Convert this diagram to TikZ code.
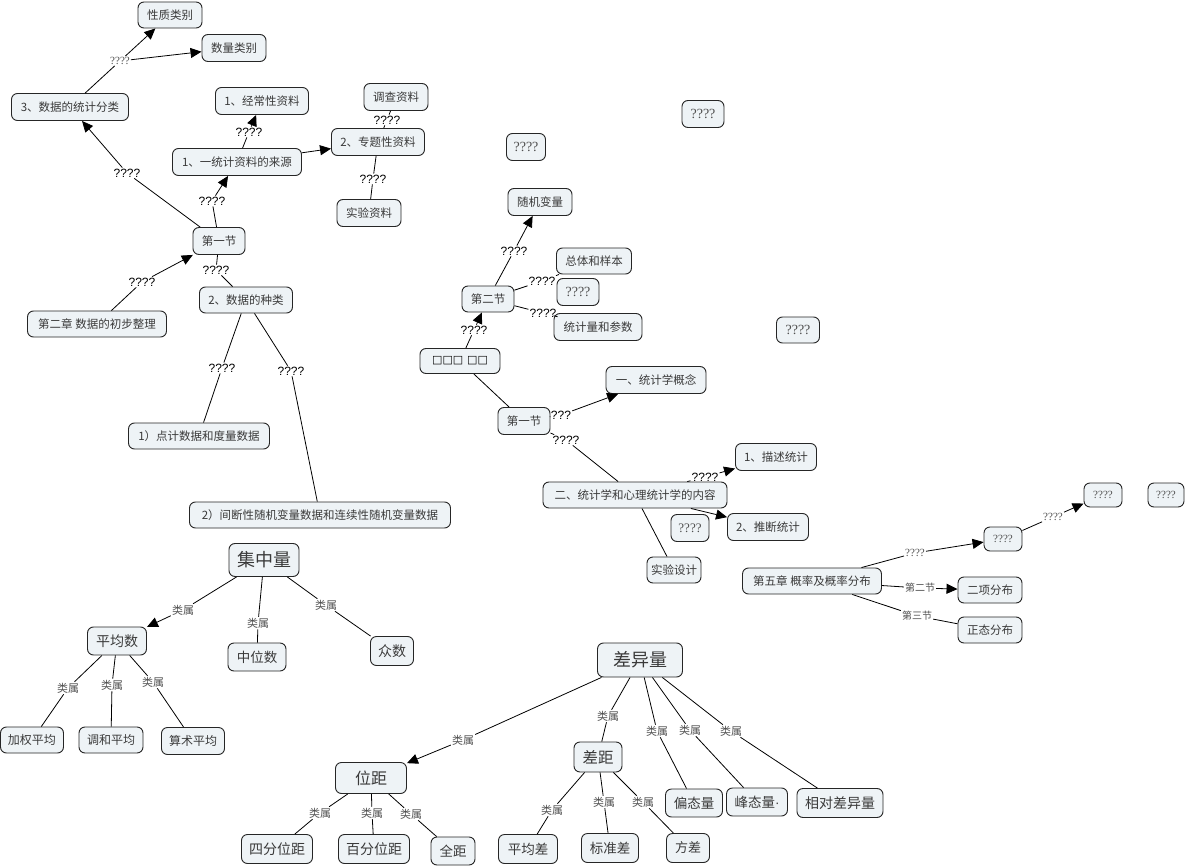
\documentclass[tikz,border=0pt]{standalone}
\usepackage{fontspec}
\setmainfont{Noto Sans CJK SC}
\newfontfamily\labfont{Liberation Sans}
\newfontfamily\qfont{Liberation Serif}
\newfontfamily\sqfont{DejaVu Sans}
\usetikzlibrary{arrows.meta}
\definecolor{boxfill}{HTML}{EEF3F6}
\definecolor{boxtext}{HTML}{3A3A3A}
\definecolor{labgray}{HTML}{505050}
\tikzset{
  box/.style={draw=black!85, line width=0.9pt, fill=boxfill, rounded corners=6pt,
    text=boxtext, inner sep=1pt, font=\fontsize{11.5}{12}\selectfont},
  sz/.style 2 args={minimum width=#1, minimum height=#2},
  fs/.style={font=\fontsize{#1}{#1}\selectfont},
  qbox/.style={box, font=\qfont\fontsize{#1}{#1}\selectfont, text=labgray},
  lab/.style={inner sep=1pt, font=\labfont\fontsize{12}{12}\selectfont, text=black},
  glab/.style={inner sep=1pt, font=\fontsize{#1}{#1}\selectfont, text=labgray},
  qlab/.style={inner sep=1pt, font=\qfont\fontsize{11}{11}\selectfont, text=labgray},
  con/.style={line width=0.8pt, draw=black},
  arr/.style={con, -{Triangle[length=11pt,width=10pt]}},
}
\begin{document}
\begin{tikzpicture}[x=1pt,y=-1pt]
\useasboundingbox[fill=white] (0,0) rectangle (1187,867);
% ---------- top-left group ----------
\node[box, sz={64}{26}] (xzlb) at (170,15) {性质类别};
\node[box, sz={64}{27}] (slbl) at (234,48) {数量类别};
\node[box, sz={117}{27}] (tjfl) at (70,107) {3、数据的统计分类};
\node[box, sz={93}{27}] (jcx) at (262,101) {1、经常性资料};
\node[box, sz={129}{27}] (ly) at (237,162) {1、一统计资料的来源};
\node[box, sz={93}{27}] (ztx) at (378,142) {2、专题性资料};
\node[box, sz={64}{27}] (dc) at (396,97) {调查资料};
\node[box, sz={64}{27}] (sy) at (369,213) {实验资料};
\node[box, sz={52}{27}] (dyj) at (219,241) {第一节};
\node[box, sz={93}{26}] (zl) at (246,300) {2、数据的种类};
\node[box, sz={139}{26}] (dez) at (97,324) {第二章 数据的初步整理};
\node[box, sz={141}{26}] (ds) at (199,436) {1）点计数据和度量数据};
\node[box, sz={261}{26}] (jd) at (320,515) {2）间断性随机变量数据和连续性随机变量数据};
% ---------- middle group ----------
\node[qbox=14, sz={42}{27}] (qa) at (703,114) {????};
\node[qbox=14, sz={39}{27}] (qb) at (526,147) {????};
\node[box, sz={64}{27}] (sj) at (540,202) {随机变量};
\node[box, sz={75}{26}] (zt) at (594,261) {总体和样本};
\node[qbox=14, sz={42}{27}] (qc) at (578,292) {????};
\node[box, sz={52}{26}] (dez2) at (488,299) {第二节};
\node[box, sz={88}{27}] (tjl) at (598,327) {统计量和参数};
\node[box, sz={80}{25}, font=\sqfont\bfseries\fontsize{11}{11}\selectfont, text=black] (sq) at (460,361) {□□□ □□};
\node[qbox=14, sz={43}{26}] (qd) at (798,330) {????};
\node[box, sz={100}{27}] (gn) at (656,380) {一、统计学概念};
\node[box, sz={52}{27}] (dyj2) at (524,421) {第一节};
\node[box, sz={184}{26}] (nr) at (635,495) {二、统计学和心理统计学的内容};
\node[box, sz={81}{27}] (ms) at (776,457) {1、描述统计};
\node[qbox=13, sz={38}{27}] (qe) at (690,528) {????};
\node[box, sz={81}{27}] (tdc) at (768,527) {2、推断统计};
\node[box, sz={54}{26}] (syj) at (674,570) {实验设计};
% ---------- right group ----------
\node[qbox=11, sz={38}{24}] (qf) at (1103,495) {????};
\node[qbox=11, sz={36}{24}] (qg) at (1166,495) {????};
\node[qbox=11, sz={38}{24}] (qh) at (1003,539) {????};
\node[box, sz={139}{26}] (dwz) at (812,581) {第五章 概率及概率分布};
\node[box, sz={64}{26}] (ex) at (990,590) {二项分布};
\node[box, sz={64}{26}] (zt2) at (990,630) {正态分布};
% ---------- bottom-left group ----------
\node[box, sz={70}{33}, fs=18] (jzl) at (264,560) {集中量};
\node[box, sz={59}{28}, fs=14] (pjs) at (117,641) {平均数};
\node[box, sz={58}{28}, fs=13.5] (zws) at (257,657) {中位数};
\node[box, sz={43}{29}, fs=14] (zs) at (392,651) {众数};
\node[box, sz={63}{26}, fs=12] (jq) at (32,740) {加权平均};
\node[box, sz={64}{26}, fs=12] (th) at (111,740) {调和平均};
\node[box, sz={63}{27}, fs=12] (ss) at (193,741) {算术平均};
% ---------- bottom-right group ----------
\node[box, sz={85}{34}, fs=18] (cyl) at (640,660) {差异量};
\node[box, sz={71}{31}, fs=16] (wj) at (371,778) {位距};
\node[box, sz={48}{30}, fs=15.5] (cj) at (598,757) {差距};
\node[box, sz={71}{29}, fs=14] (sf) at (277,849) {四分位距};
\node[box, sz={71}{29}, fs=14] (bf) at (374,849) {百分位距};
\node[box, sz={44}{28}, fs=13.5] (qj) at (453,851) {全距};
\node[box, sz={59}{29}, fs=13.5] (pjc) at (528,849) {平均差};
\node[box, sz={57}{29}, fs=13.5] (bzc) at (610,848) {标准差};
\node[box, sz={43}{29}, fs=13] (fc) at (688,848) {方差};
\node[box, sz={57}{28}, fs=13.5] (ptl) at (694,803) {偏态量};
\node[box, sz={61}{28}, fs=13.5] (ftl) at (757,802) {峰态量{\labfont ·}};
\node[box, sz={86}{29}, fs=14] (xd) at (840,803) {相对差异量};
% ---------- linking phrases ----------
\node[qlab] (l1) at (120,61) {????};
\node[lab] (l2) at (127,173) {????};
\node[lab] (l3) at (212,201) {????};
\node[lab] (l4) at (249,132) {????};
\node[lab] (l5) at (387,120) {????};
\node[lab] (l6) at (373,179) {????};
\node[lab] (l7) at (142,282) {????};
\node[lab] (l8) at (216,270) {????};
\node[lab] (l9) at (222,368) {????};
\node[lab] (l10) at (291,371) {????};
\node[lab] (m1) at (474,330) {????};
\node[lab] (m2) at (514,251) {????};
\node[lab] (m3) at (542,281) {????};
\node[lab] (m4) at (543,313) {????};
\node[lab] (m5) at (561,415) {???};
\node[lab] (m6) at (566,440) {????};
\node[lab] (m7) at (705,477) {????};
\node[qlab] (r1) at (915,553) {????};
\node[qlab] (r2) at (1053,517) {????};
\node[glab=10] (r3) at (920,588) {第二节};
\node[glab=10] (r4) at (917,616) {第三节};
\node[glab=11] (b1) at (183,610) {类属};
\node[glab=11] (b2) at (258,623) {类属};
\node[glab=11] (b3) at (326,605) {类属};
\node[glab=11] (b4) at (68,688) {类属};
\node[glab=11] (b5) at (112,685) {类属};
\node[glab=11] (b6) at (153,682) {类属};
\node[glab=11] (c1) at (463,740) {类属};
\node[glab=11] (c2) at (608,716) {类属};
\node[glab=11] (c3) at (657,731) {类属};
\node[glab=11] (c4) at (690,730) {类属};
\node[glab=11] (c5) at (731,731) {类属};
\node[glab=11] (c6) at (320,813) {类属};
\node[glab=11] (c7) at (372,813) {类属};
\node[glab=11] (c8) at (411,814) {类属};
\node[glab=11] (c9) at (552,810) {类属};
\node[glab=11] (c10) at (604,802) {类属};
\node[glab=11] (c11) at (643,802) {类属};
% ---------- connectors ----------
\draw[con] (tjfl) -- (l1);
\draw[arr] (l1) -- (xzlb);
\draw[arr] (l1) -- (slbl);
\draw[con] (dyj) -- (l2);
\draw[arr] (l2) -- (tjfl);
\draw[con] (dyj) -- (l3);
\draw[arr] (l3) -- (ly);
\draw[con] (ly) -- (l4);
\draw[arr] (l4) -- (jcx);
\draw[arr] (ly) -- (ztx);
\draw[con] (ztx) -- (l5);
\draw[con] (l5) -- (dc);
\draw[con] (ztx) -- (l6);
\draw[con] (l6) -- (sy);
\draw[con] (dez) -- (l7);
\draw[arr] (l7) -- (dyj);
\draw[con] (dyj) -- (l8);
\draw[con] (l8) -- (zl);
\draw[con] (zl) -- (l9);
\draw[con] (l9) -- (ds);
\draw[con] (zl) -- (l10);
\draw[con] (l10) -- (jd);
\draw[con] (sq) -- (m1);
\draw[arr] (m1) -- (dez2);
\draw[con] (dez2) -- (m2);
\draw[arr] (m2) -- (sj);
\draw[con] (dez2) -- (m3);
\draw[con] (m3) -- (zt);
\draw[con] (dez2) -- (m4);
\draw[con] (m4) -- (tjl);
\draw[con] (sq) -- (dyj2);
\draw[con] (dyj2) -- (m5);
\draw[arr] (m5) -- (gn);
\draw[con] (dyj2) -- (m6);
\draw[con] (m6) -- (nr);
\draw[con] (nr) -- (m7);
\draw[arr] (m7) -- (ms);
\draw[arr] (nr) -- (tdc);
\draw[con] (nr) -- (syj);
\draw[con] (dwz) -- (r1);
\draw[arr] (r1) -- (qh);
\draw[con] (qh) -- (r2);
\draw[arr] (r2) -- (qf);
\draw[con] (dwz) -- (r3);
\draw[arr] (r3) -- (ex);
\draw[con] (dwz) -- (r4);
\draw[con] (r4) -- (zt2);
\draw[con] (jzl) -- (b1);
\draw[arr] (b1) -- (pjs);
\draw[con] (jzl) -- (b2);
\draw[con] (b2) -- (zws);
\draw[con] (jzl) -- (b3);
\draw[con] (b3) -- (zs);
\draw[con] (pjs) -- (b4);
\draw[con] (b4) -- (jq);
\draw[con] (pjs) -- (b5);
\draw[con] (b5) -- (th);
\draw[con] (pjs) -- (b6);
\draw[con] (b6) -- (ss);
\draw[con] (cyl) -- (c1);
\draw[arr] (c1) -- (wj);
\draw[con] (cyl) -- (c2);
\draw[con] (c2) -- (cj);
\draw[con] (cyl) -- (c3);
\draw[con] (c3) -- (ptl);
\draw[con] (cyl) -- (c4);
\draw[con] (c4) -- (ftl);
\draw[con] (cyl) -- (c5);
\draw[con] (c5) -- (xd);
\draw[con] (wj) -- (c6);
\draw[con] (c6) -- (sf);
\draw[con] (wj) -- (c7);
\draw[con] (c7) -- (bf);
\draw[con] (wj) -- (c8);
\draw[con] (c8) -- (qj);
\draw[con] (cj) -- (c9);
\draw[con] (c9) -- (pjc);
\draw[con] (cj) -- (c10);
\draw[con] (c10) -- (bzc);
\draw[con] (cj) -- (c11);
\draw[con] (c11) -- (fc);
\end{tikzpicture}
\end{document}
